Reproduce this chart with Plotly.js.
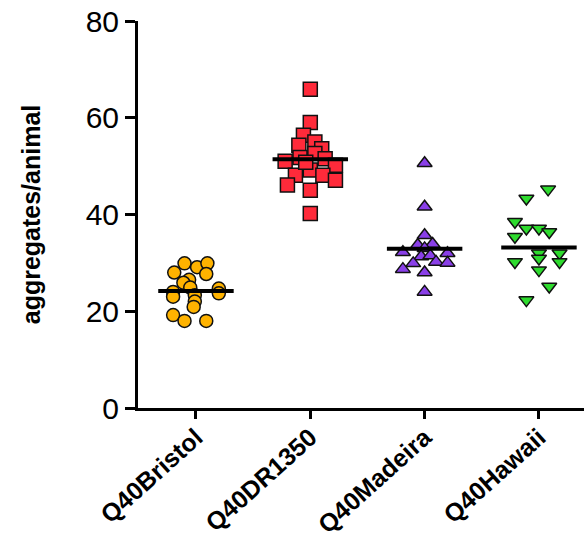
<!DOCTYPE html>
<html>
<head>
<meta charset="utf-8">
<script src="https://cdn.plot.ly/plotly-3.0.1.min.js"></script>
<style>html,body{margin:0;padding:0;background:#fff;}#chart{width:584px;height:548px;}</style>
</head>
<body>
<div id="chart"></div>
<script>
const categories = ['Q40Bristol', 'Q40DR1350', 'Q40Madeira', 'Q40Hawaii'];
const yTicks = [0, 20, 40, 60, 80];

const bristolValues = [29.9, 29.1, 29.9, 28.0, 27.7, 26.5, 25.9, 24.9, 24.0, 24.7, 23.7, 23.0, 23.3, 22.0, 20.9, 19.2, 18.0, 18.0];
const bristolJitter = [-0.10, 0.01, 0.10, -0.19, 0.09, -0.06, -0.11, -0.05, -0.20, 0.20, 0.20, -0.20, -0.01, -0.01, -0.02, -0.20, -0.10, 0.09];

const dr1350Values = [65.9, 59.0, 56.4, 55.0, 54.3, 53.6, 52.6, 51.8, 51.0, 51.5, 50.2, 49.2, 48.1, 48.1, 47.1, 46.1, 45.0, 40.2, 50.8];
const dr1350Jitter = [0, 0, -0.06, 0.04, -0.10, 0.10, 0.04, -0.09, -0.22, 0.13, 0.22, 0, -0.13, 0.11, 0.22, -0.20, 0, 0, -0.04];

const madeiraValues = [50.6, 41.6, 35.7, 33.7, 33.9, 33.0, 32.2, 32.0, 31.3, 31.5, 30.2, 30.0, 29.9, 28.7, 28.0, 24.0];
const madeiraJitter = [0, 0, 0, -0.06, 0.07, 0, -0.19, 0.20, -0.03, 0.05, 0.10, 0.20, -0.10, -0.19, 0, 0];

const hawaiiValues = [45.2, 43.3, 38.5, 37.1, 37.1, 36.4, 35.4, 32.0, 32.0, 30.2, 30.9, 30.2, 28.5, 25.1, 22.3];
const hawaiiJitter = [0.08, -0.11, -0.21, -0.11, 0, 0.09, -0.21, 0, 0.18, -0.21, 0, 0.18, 0, 0.09, -0.11];

const groupMeans = [24.2, 51.4, 32.9, 33.2];

const groups = [
  {vals: bristolValues, jit: bristolJitter, symbol: 'circle', color: '#FFB300', size: 13},
  {vals: dr1350Values, jit: dr1350Jitter, symbol: 'square', color: '#FF2A3A', size: 14},
  {vals: madeiraValues, jit: madeiraJitter, symbol: 'triangle-up', color: '#8A3FE8', size: 13},
  {vals: hawaiiValues, jit: hawaiiJitter, symbol: 'triangle-down', color: '#2EDB2E', size: 13}
];

const traces = groups.map((g, i) => ({
  type: 'scatter',
  mode: 'markers',
  x: g.jit.map(j => i + j),
  y: g.vals,
  marker: {symbol: g.symbol, color: g.color, size: g.size, line: {color: '#111', width: 1.5}},
  hoverinfo: 'y',
  showlegend: false,
  cliponaxis: false
}));

const mx = [], my = [];
groupMeans.forEach((m, i) => { mx.push(i - 0.33, i + 0.33, null); my.push(m, m, null); });
traces.push({type: 'scatter', mode: 'lines', x: mx, y: my, line: {color: '#000', width: 4}, showlegend: false, hoverinfo: 'skip'});

const layout = {
  width: 584, height: 548,
  margin: {l: 138, r: 0, t: 21, b: 140},
  paper_bgcolor: '#fff', plot_bgcolor: '#fff',
  showlegend: false,
  xaxis: {
    range: [-0.507, 3.394], showgrid: false, zeroline: false,
    showline: true, linecolor: '#000', linewidth: 3,
    ticks: 'outside', ticklen: 8, tickwidth: 3, tickcolor: '#000',
    tickmode: 'array', tickvals: categories.map((c, i) => i), ticktext: categories,
    tickangle: -42, ticklabelstandoff: -6,
    tickfont: {family: 'Liberation Sans, Arial, sans-serif', size: 25, color: '#000', weight: 'bold'}
  },
  yaxis: {
    range: [0, 80], showgrid: false, zeroline: false,
    showline: true, linecolor: '#000', linewidth: 3,
    ticks: 'outside', ticklen: 10, tickwidth: 3, tickcolor: '#000',
    tickmode: 'array', tickvals: yTicks, ticktext: yTicks.map(String),
    tickfont: {family: 'Liberation Sans, Arial, sans-serif', size: 30, color: '#000'},
    title: {text: 'aggregates/animal', font: {family: 'Liberation Sans, Arial, sans-serif', size: 25, color: '#000', weight: 'bold'}, standoff: 38}
  }
};

Plotly.newPlot('chart', traces, layout, {displayModeBar: false, staticPlot: true});
</script>
</body>
</html>
